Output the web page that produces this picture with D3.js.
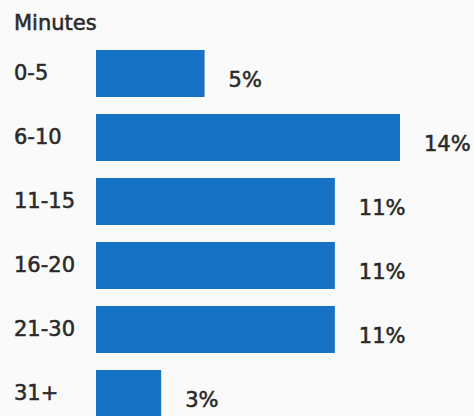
<!DOCTYPE html>
<html>
<head>
<meta charset="utf-8">
<script src="https://cdn.jsdelivr.net/npm/d3@7"></script>
<style>
  html, body { margin: 0; padding: 0; background: #fafafa; }
  svg { display: block; }
  text { font-family: "DejaVu Sans", sans-serif; fill: #2a2a2a; stroke: #2a2a2a; stroke-width: 0.55px; }
</style>
</head>
<body>
<svg id="chart" width="474" height="416"></svg>
<script>
// Share of respondents by time spent, in minutes
const title = "Minutes";
const categories = ["0-5", "6-10", "11-15", "16-20", "21-30", "31+"];
const shares = [5, 14, 11, 11, 11, 3];

const svg = d3.select("#chart");
const W = 474, H = 416;

svg.append("rect").attr("width", W).attr("height", H).attr("fill", "#fafafa");

const x = d3.scaleLinear().domain([0, 14]).range([96, 400]);
const y = d3.scaleBand()
  .domain(categories)
  .range([50, 417])
  .paddingInner(17 / 64)
  .paddingOuter(0);

const data = categories.map((c, i) => ({ cat: c, v: shares[i] }));

svg.append("text")
  .attr("x", 14)
  .attr("y", 30)
  .attr("font-size", 21)
  .text(title);

const rows = svg.selectAll("g.row").data(data).enter().append("g").attr("class", "row");

rows.append("rect")
  .attr("x", x(0))
  .attr("y", d => y(d.cat))
  .attr("width", d => x(d.v) - x(0))
  .attr("height", y.bandwidth())
  .attr("fill", "#1672c4");

rows.append("text")
  .attr("x", 14)
  .attr("y", d => y(d.cat) + y.bandwidth() / 2 + 6.5)
  .attr("font-size", 21)
  .text(d => d.cat);

rows.append("text")
  .attr("x", d => x(d.v) + 24)
  .attr("y", d => y(d.cat) + y.bandwidth() / 2 + 13)
  .attr("font-size", 21)
  .text(d => d.v + "%");
</script>
</body>
</html>
